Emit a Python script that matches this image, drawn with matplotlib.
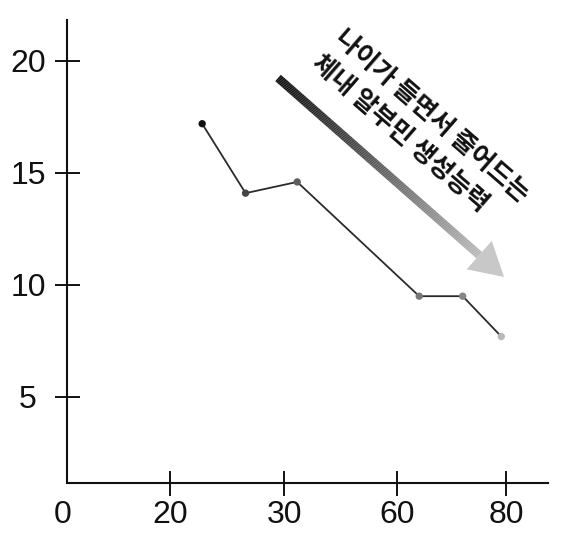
import numpy as np
import matplotlib
matplotlib.use("Agg")
import matplotlib.pyplot as plt
from matplotlib.collections import LineCollection
from matplotlib.patches import Polygon
from matplotlib.transforms import IdentityTransform, ScaledTranslation

# ---------------- data ----------------
age_ticks = [0, 20, 30, 60, 80]
age_tick_labels = ["0", "20", "30", "60", "80"]
tick_positions = [0.0, 0.94, 1.98, 3.01, 4.0]   # spacing of the (schematic) age axis

ages = [22.8, 26.6, 33.4, 64.0, 72.0, 79.1]
albumin = [17.2, 14.1, 14.6, 9.5, 9.5, 7.7]
marker_colors = ["#111111", "#444444", "#5e5e5e", "#777777", "#858585", "#b8b8b8"]

y_ticks = [5, 10, 15, 20]
y_tick_labels = ["5", "10", "15", "20"]

annot_lines = ["나이가 들면서 줄어드는", "체내 알부민 생성능력"]
annot_pos = [(44.4, 21.17), (38.2, 20.03)]
arrow_tail = (29.45, 19.24)
arrow_tip = (79.6, 10.36)

# ---------------- scale ----------------
ta = np.array(age_ticks, float)
tp = np.array(tick_positions, float)


def fwd(a):
    a = np.asarray(a, float)
    out = np.interp(a, ta, tp)
    hi = a > ta[-1]
    lo = a < ta[0]
    s_hi = (tp[-1] - tp[-2]) / (ta[-1] - ta[-2])
    s_lo = (tp[1] - tp[0]) / (ta[1] - ta[0])
    out = np.where(hi, tp[-1] + (a - ta[-1]) * s_hi, out)
    out = np.where(lo, tp[0] + (a - ta[0]) * s_lo, out)
    return out


def inv(p):
    p = np.asarray(p, float)
    out = np.interp(p, tp, ta)
    hi = p > tp[-1]
    lo = p < tp[0]
    s_hi = (ta[-1] - ta[-2]) / (tp[-1] - tp[-2])
    s_lo = (ta[1] - ta[0]) / (tp[1] - tp[0])
    out = np.where(hi, ta[-1] + (p - tp[-1]) * s_hi, out)
    out = np.where(lo, ta[0] + (p - tp[0]) * s_lo, out)
    return out


# ---------------- figure ----------------
W, H = 573, 533
fig = plt.figure(figsize=(W / 100, H / 100), dpi=100)
ax = fig.add_axes([67 / W, 50 / H, 481 / W, 463 / H])
ax.set_xscale("function", functions=(fwd, inv))
ax.set_xlim(0, 87.7)
ax.set_ylim(1.16, 21.83)

for s in ["top", "right"]:
    ax.spines[s].set_visible(False)
for s in ["left", "bottom"]:
    ax.spines[s].set_linewidth(1.5)
    ax.spines[s].set_color("#111111")

ax.set_xticks(age_ticks)
ax.set_xticklabels(age_tick_labels)
ax.set_yticks(y_ticks)
ax.set_yticklabels(y_tick_labels)
ax.minorticks_off()

ax.tick_params(axis="x", direction="inout", length=18, width=1.4, color="#111111", pad=3.2)
ax.tick_params(axis="y", direction="inout", length=18, width=1.4, color="#111111", pad=19)
for lab in ax.get_xticklabels() + ax.get_yticklabels():
    lab.set_fontfamily("Liberation Sans")
    lab.set_fontsize(23)
    lab.set_color("#111111")
for lab in ax.get_yticklabels():
    lab.set_horizontalalignment("center")

xt = ax.xaxis.get_major_ticks()
xt[0].tick1line.set_visible(False)
lab0 = ax.get_xticklabels()[0]
lab0.set_transform(lab0.get_transform() + ScaledTranslation(-4 / 100, 0, fig.dpi_scale_trans))

# line + markers
ax.plot(ages, albumin, color="#2b2b2b", lw=1.3, zorder=2, clip_on=False)
ax.scatter(ages, albumin, s=28, c=marker_colors, zorder=3, linewidths=0, clip_on=False)

# gradient arrow (built in display space from data anchors)
fig.canvas.draw()
p0 = ax.transData.transform(arrow_tail)
p1 = ax.transData.transform(arrow_tip)
d = (p1 - p0) / np.hypot(*(p1 - p0))
n = np.array([-d[1], d[0]])
head_len, head_w, shaft_w = 33.0, 38.0, 8.5
base = p1 - d * head_len
N = 240
ts = np.linspace(0, 1, N + 1)
pts = p0[None, :] + (base - p0)[None, :] * ts[:, None]
segs = np.stack([pts[:-1], pts[1:]], axis=1)
greys = np.linspace(0.0, 0.74, N) ** 1.15
cols = [(g, g, g, 1.0) for g in greys]
lc = LineCollection(segs, colors=cols, linewidths=shaft_w * 72 / 100,
                    capstyle="butt", transform=IdentityTransform(), zorder=4)
lc.set_clip_on(False)
ax.add_collection(lc, autolim=False)
head = Polygon([base + n * head_w / 2, p1, base - n * head_w / 2], closed=True,
               facecolor="#c8c8c8", edgecolor="none", transform=IdentityTransform(), zorder=4)
head.set_clip_on(False)
ax.add_patch(head)

# rotated annotation text
for txt, (xa, ya) in zip(annot_lines, annot_pos):
    ax.text(xa, ya, txt, rotation=-41, rotation_mode="anchor", ha="left", va="center",
            fontsize=18.5, fontweight="bold", color="#111111",
            family=["Noto Sans CJK KR", "DejaVu Sans"], zorder=5)

fig.savefig("out.png", dpi=100)
